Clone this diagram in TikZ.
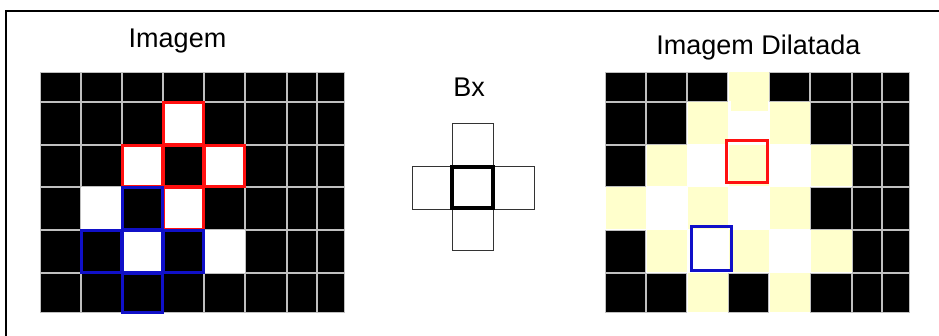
\documentclass[tikz,border=0pt]{standalone}
\usepackage{fontspec}
\setmainfont{Liberation Sans}
\usepackage{xcolor}
\definecolor{Cream}{HTML}{FFFFCC}
\definecolor{Mark}{HTML}{FF1010}
\definecolor{Probe}{HTML}{1010C8}
% column and row edges of one grid, from its top left corner
\def\colpos{{0,41,82,123,164,205,247,277,305}}
\def\rowpos{{0,30,73,115,158,201,241}}
\newcommand{\pix}[4]{
  \pgfmathsetmacro{\xa}{#1+\colpos[#2]}
  \pgfmathsetmacro{\xb}{#1+\colpos[#2+1]}
  \pgfmathsetmacro{\ya}{72+\rowpos[#3]}
  \pgfmathsetmacro{\yb}{72+\rowpos[#3+1]}
  \path[#4] (\xa+0.5,\ya+0.5) rectangle (\xb-0.5,\yb-0.5);
}
\tikzset{
  pixk/.style={fill=black, draw=black!25, line width=1pt},
  pixw/.style={fill=white},
  pixy/.style={fill=Cream},
  redring/.style={draw=Mark, line width=3.5pt},
  bluering/.style={draw=Probe, line width=3.5pt},
  title/.style={font=\fontsize{27}{32}\selectfont, anchor=base},
  probe/.style={draw=black!80, line width=1pt}
}

\begin{document}
\begin{tikzpicture}[x=1pt, y=-1pt]
        \fill[white] (0,0) rectangle (939,336);
        \useasboundingbox (0,0) rectangle (939,336);
        \draw[line width=2pt] (6.3,336) |- (939,11);
        % original image
        \foreach \line [count=\r from 0] in {{k,k,k,k,k,k,k,k},{k,k,k,w,k,k,k,k},{k,k,w,k,w,k,k,k},{k,w,k,w,k,k,k,k},{k,k,w,k,w,k,k,k},{k,k,k,k,k,k,k,k}}
          \foreach \v [count=\c from 0] in \line {\pix{40}{\c}{\r}{pix\v}}
        \foreach \c/\r in {3/1,2/2,3/2,4/2,3/3} \pix{40}{\c}{\r}{redring}
        \foreach \c/\r in {2/3,1/4,2/4,3/4,2/5} \pix{40}{\c}{\r}{bluering}
        % dilated image
        \foreach \line [count=\r from 0] in {{k,k,k,y,k,k,k,k},{k,k,y,w,y,k,k,k},{k,y,w,y,w,y,k,k},{y,w,y,w,y,k,k,k},{k,y,w,y,w,y,k,k},{k,k,y,k,y,k,k,k}}
          \foreach \v [count=\c from 0] in \line {\pix{605}{\c}{\r}{pix\v}}
        \fill[Cream] (731,72) rectangle (768,111);
        \draw[redring, line width=2.5pt] (726.5,140.5) rectangle (767.5,182.5);
        \draw[bluering, line width=2.5pt] (691.5,226.5) rectangle (731.5,270.5);
        % structuring element
        \foreach \bx/\by in {452/124,412/167,493/167,452/208}
          \draw[probe] (\bx,\by) rectangle ++(41,43);
        \draw[line width=4pt] (452,167) rectangle (493,208);
        \node[title] (imagem) at (177.5,48) {Imagem};
        \node[title] (bx) at (469,96.5) {Bx};
        \node[title] (dilatada) at (758.5,54.5) {Imagem Dilatada};
      \end{tikzpicture}
\end{document}
